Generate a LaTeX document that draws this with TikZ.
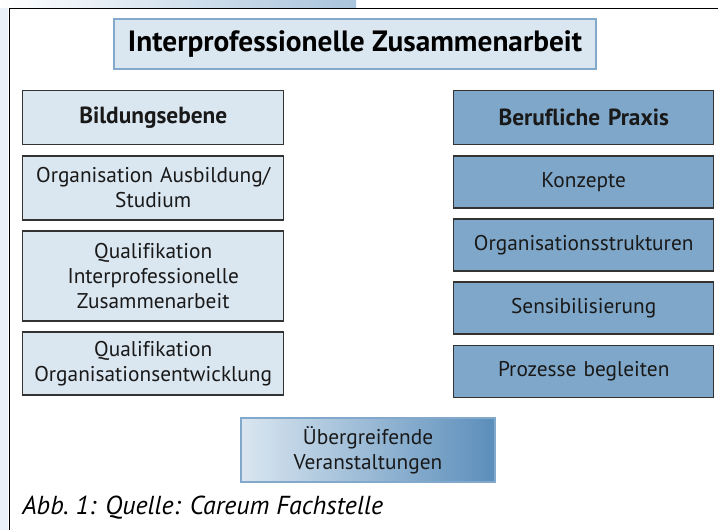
\documentclass[tikz,border=0pt]{standalone}
\usepackage{fontspec}
\setmainfont[Ligatures=NoCommon]{PT Sans}
\usetikzlibrary{positioning}

\definecolor{lightbox}{HTML}{DAE6F0}
\definecolor{darkbox}{HTML}{7FA7C9}
\definecolor{titleline}{HTML}{82A8CC}
\definecolor{boxline}{HTML}{333333}
\definecolor{gradright}{HTML}{5B8EBB}
\definecolor{stripblue}{HTML}{A9C4DC}
\definecolor{stripleft}{HTML}{EAF1F8}

\tikzset{
  box/.style={draw=boxline, line width=1.1pt, align=center, inner sep=2pt,
    font=\fontsize{16}{18.5}\selectfont, text=black!90},
  lbox/.style={box, fill=lightbox, minimum width=195.75pt, text width=190pt},
  rbox/.style={box, fill=darkbox, minimum width=195pt, text width=190pt},
  headfont/.style={font=\bfseries\fontsize{17.5}{20}\selectfont},
  headbox/.style={draw=titleline, line width=2pt, fill=lightbox,
    minimum width=361.5pt, minimum height=37.5pt,
    font=\bfseries\fontsize{22}{25}\selectfont},
  gradbox/.style={draw=titleline, line width=1.5pt, left color=lightbox,
    right color=gradright, minimum width=190.5pt, minimum height=48pt,
    align=center, font=\fontsize{16}{18.5}\selectfont, text=black!90},
}

\begin{document}
\begin{tikzpicture}[x=0.75pt,y=-0.75pt]
\useasboundingbox (0,0) rectangle (718,530);

\fill[stripleft] (0,0) rectangle (8,530);
\shade[left color=white, right color=stripblue] (0,0) rectangle (356,8);
\draw[line width=1.3pt] (718,8.5) -- (9.5,8.5) -- (9.5,530);

\node[headbox] (iza) at (355,44) {Interprofessionelle Zusammenarbeit};

\node[lbox, headfont, minimum height=40.5pt, anchor=north west] (bild) at (22,90) {Bildungsebene};
\node[lbox, minimum height=48pt, below=7.25pt of bild] (org) {Organisation Ausbildung/\\Studium};
\node[lbox, minimum height=67.5pt, below=7.25pt of org] (qiz) {Qualifikation\\Interprofessionelle\\Zusammenarbeit};
\node[lbox, minimum height=47.25pt, below=7.25pt of qiz] (qoe) {Qualifikation\\Organisationsentwicklung};

\node[rbox, headfont, minimum height=40.5pt, anchor=north west] (prax) at (453,90) {Berufliche Praxis};
\node[rbox, minimum height=39pt, below=7.25pt of prax] (konz) {Konzepte};
\node[rbox, minimum height=39pt, below=7.25pt of konz] (orgs) {Organisationsstrukturen};
\node[rbox, minimum height=39pt, below=7.25pt of orgs] (sens) {Sensibilisierung};
\node[rbox, minimum height=39pt, below=7.25pt of sens] (proz) {Prozesse begleiten};

\node[gradbox] (ueb) at (368,450) {Übergreifende\\Veranstaltungen};

\node[anchor=base west, inner sep=0pt, font=\itshape\fontsize{19.5}{22}\selectfont] (abb) at (22,515) {Abb.~1: Quelle: Careum Fachstelle};
\end{tikzpicture}
\end{document}
